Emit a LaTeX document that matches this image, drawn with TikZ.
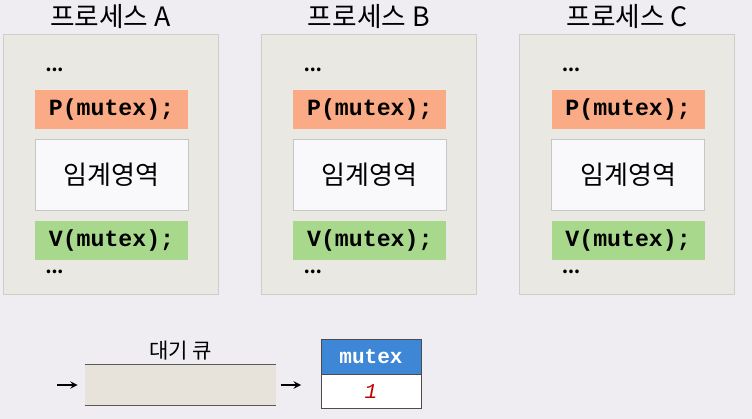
\documentclass[tikz,border=0pt]{standalone}
\usepackage{fontspec}
\setmainfont{Noto Sans CJK KR}
\setmonofont{Liberation Mono}
\usetikzlibrary{arrows,positioning}

\definecolor{bgcol}{RGB}{239,237,242}
\definecolor{procfill}{RGB}{233,232,226}
\definecolor{procline}{RGB}{206,206,200}
\definecolor{pfill}{RGB}{250,170,132}
\definecolor{vfill}{RGB}{168,216,140}
\definecolor{hdrblue}{RGB}{62,134,214}
\definecolor{qfill}{RGB}{231,227,219}

\tikzset{
	procbox/.style={draw=procline,fill=procfill,minimum width=5.375cm,minimum height=6.5cm},
	opbox/.style={minimum width=3.825cm,minimum height=0.975cm,font=\fontsize{16.5}{18}\selectfont\ttfamily\bfseries},
	csbox/.style={draw=gray!45,fill=white!60!bgcol,minimum width=3.825cm,minimum height=1.775cm,font=\fontsize{18.5}{21}\selectfont},
	dots/.style={font=\fontsize{12}{14}\selectfont\bfseries},
	qarrow/.style={-stealth,line width=1.3pt},
}

\begin{document}
\begin{tikzpicture}[x=0.025cm,y=-0.025cm]
		\useasboundingbox[fill=bgcol] (0,0) rectangle (752,419);
		\foreach \n [count=\i from 0] in {A,B,C}{
			\pgfmathsetmacro{\cx}{110.5+\i*258.3}
			\node[procbox] (proc\n) at (\cx,164) {};
			\node[font=\fontsize{19}{21}\selectfont] (title\n) at (\cx,16) {프로세스 \n};
			\node[dots] (dotup\n) at (\cx-56,70) {...};
			\node[opbox,fill=pfill] (p\n) at (\cx+1,109.5) {P(mutex);};
			\node[csbox] (cs\n) at (\cx+1,174.5) {임계영역};
			\node[opbox,fill=vfill] (v\n) at (\cx+1,240.5) {V(mutex);};
			\node[dots] (dotdown\n) at (\cx-56,272) {...};
		}
		% wait queue
		\node[fill=qfill,minimum width=4.775cm,minimum height=1cm] (queue) at (180.5,385) {};
		\draw[gray!70!black,line width=.8pt] (queue.north west) -- (queue.north east);
		\draw[gray!70!black,line width=.8pt] (queue.south west) -- (queue.south east);
		\node[above=0pt of queue,font=\fontsize{15}{17}\selectfont] (qlabel) {대기 큐};
		\coordinate (qin) at (57,385);
		\draw[qarrow] (qin) -- ([xshift=-5]queue.west);
		% semaphore
		\node[draw=gray!60!black,fill=hdrblue,text=white,minimum width=2.5cm,minimum height=0.875cm,font=\fontsize{15}{17}\selectfont\ttfamily\bfseries] (mutexhdr) at (371,356.5) {mutex};
		\node[draw=gray!60!black,fill=white,text=red!75!black,minimum width=2.5cm,minimum height=0.85cm,font=\fontsize{15}{17}\selectfont\ttfamily\itshape,below=0pt of mutexhdr] (mutexval) {1};
		\draw[qarrow,shorten <=3pt,shorten >=14pt] (queue.east) -- (queue.east -| mutexval.west);
	\end{tikzpicture}
\end{document}
